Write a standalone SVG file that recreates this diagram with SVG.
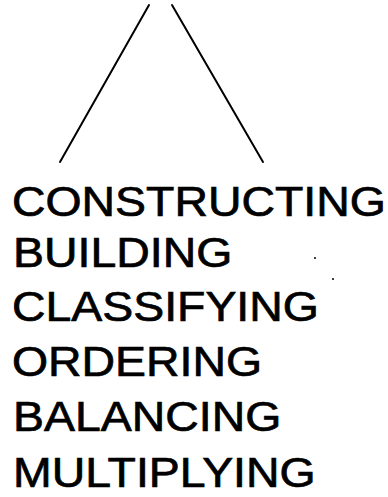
<svg xmlns="http://www.w3.org/2000/svg" width="388" height="497" viewBox="0 0 388 497">
<style>
.w{font-family:"Liberation Sans",Arial,sans-serif;font-size:42px;fill:#000;stroke:#000;stroke-width:0.7}
.ln{stroke:#000;stroke-width:2;fill:none;stroke-linecap:round}
</style>
<rect width="388" height="497" fill="#fff"/>
<g id="connectors">
<line class="ln" x1="149" y1="5" x2="60" y2="162"/>
<line class="ln" x1="172" y1="5" x2="263" y2="162"/>
</g>
<g id="words" transform="translate(12,0) scale(1.105,1)">
<g id="constructing"><text class="w" x="0" y="216">CONSTRUCTING</text></g>
<g id="building"><text class="w" x="1" y="267">BUILDING</text></g>
<g id="classifying"><text class="w" x="0" y="321">CLASSIFYING</text></g>
<g id="ordering"><text class="w" x="0" y="376">ORDERING</text></g>
<g id="balancing"><text class="w" x="1" y="431">BALANCING</text></g>
<g id="multiplying"><text class="w" x="1" y="487">MULTIPLYING</text></g>
</g>
<g id="specks" fill="#000">
<circle cx="315" cy="258" r="1"/>
<circle cx="333" cy="279" r="1"/>
</g>
</svg>
